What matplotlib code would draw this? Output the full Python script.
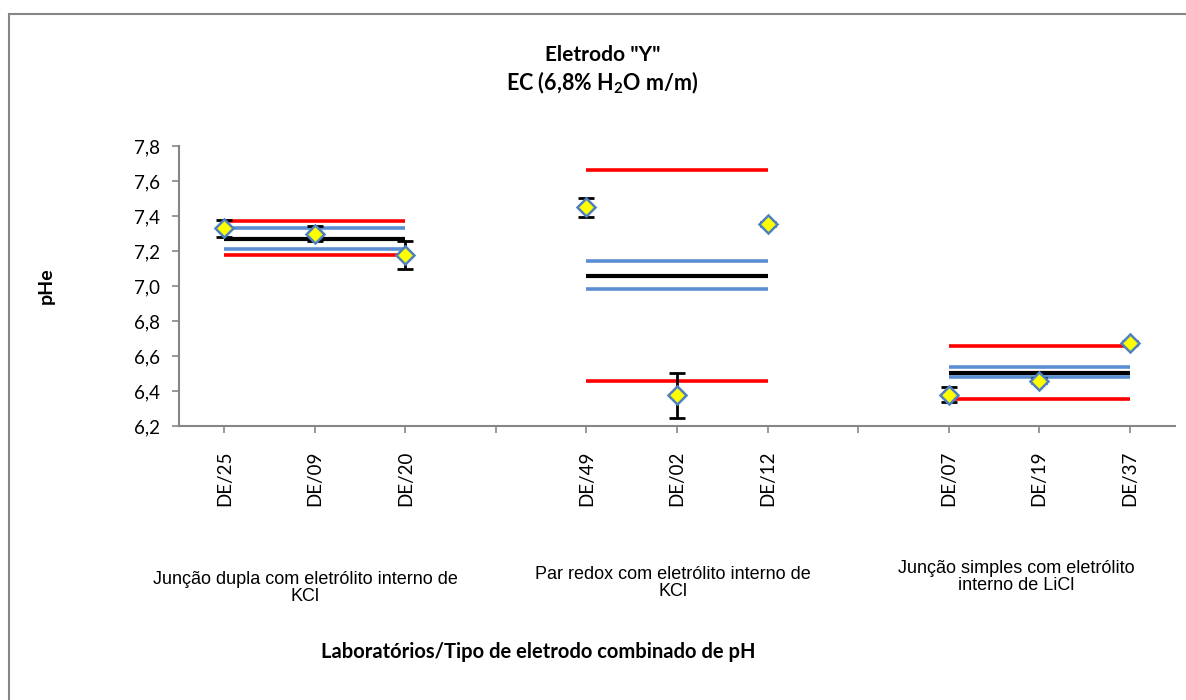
import matplotlib
matplotlib.use("Agg")
import matplotlib.pyplot as plt
from matplotlib.patches import Rectangle

plt.rcParams["mathtext.fontset"] = "custom"
plt.rcParams["mathtext.rm"] = "Lato"
plt.rcParams["mathtext.bf"] = "Lato:bold"

# categories (blank slots separate the electrode groups)
labs = ["DE/25", "DE/09", "DE/20", "", "DE/49", "DE/02", "DE/12", "", "DE/07", "DE/19", "DE/37"]
groups = [[0, 1, 2], [4, 5, 6], [8, 9, 10]]
groupNames = ["Junção dupla com eletrólito interno de\nKCl",
              "Par redox com eletrólito interno de\nKCl",
              "Junção simples com eletrólito\ninterno de LiCl"]

# lab results and their uncertainties
pHe = [7.33, 7.30, 7.18, None, 7.45, 6.375, 7.355, None, 6.38, 6.46, 6.675]
err = [0.05, 0.045, 0.08, None, 0.055, 0.13, 0.012, None, 0.045, 0.012, 0.012]

# group statistics: mean, blue band, red band
meanVals = [7.27, 7.06, 6.505]
blueUp = [7.33, 7.145, 6.535]
blueLow = [7.21, 6.98, 6.48]
redUp = [7.37, 7.665, 6.66]
redLow = [7.175, 6.455, 6.355]

fig = plt.figure(figsize=(11.86, 7.0), dpi=100)
ax = fig.add_axes([179/1186, 1-426/700, (1175-179)/1186, 280/700])

blue = "#5A8ED2"
for g, idx in enumerate(groups):
    xs = [idx[0], idx[-1]]
    ax.plot(xs, [redUp[g]]*2, color="#FF0000", lw=2.6, solid_capstyle="butt", zorder=2)
    ax.plot(xs, [redLow[g]]*2, color="#FF0000", lw=2.6, solid_capstyle="butt", zorder=2)
    ax.plot(xs, [blueUp[g]]*2, color=blue, lw=2.6, solid_capstyle="butt", zorder=2)
    ax.plot(xs, [blueLow[g]]*2, color=blue, lw=2.6, solid_capstyle="butt", zorder=2)
    ax.plot(xs, [meanVals[g]]*2, color="black", lw=3.0, solid_capstyle="butt", zorder=3)

xp = [i for i, v in enumerate(pHe) if v is not None]
yp = [pHe[i] for i in xp]
ep = [err[i] for i in xp]
ax.errorbar(xp, yp, yerr=ep, fmt="none", ecolor="black", elinewidth=2, capsize=6, capthick=2, zorder=4)
ax.plot(xp, yp, linestyle="none", marker="D", markersize=9.5, markerfacecolor="#FFFF00",
        markeredgecolor="#4F81BD", markeredgewidth=1.8, zorder=5)

ax.set_xlim(-0.5, len(labs)-0.5)
ax.set_ylim(6.2, 7.8)
yt = [6.2 + 0.2*i for i in range(9)]
ax.set_yticks(yt)
ax.set_yticklabels([f"{v:.1f}".replace(".", ",") for v in yt], fontsize=13.5, family="Lato")
ax.set_xticks(range(len(labs)))
ax.set_xticklabels(labs, rotation=90, fontsize=13.5, family="Lato")
for s in ["top", "right"]:
    ax.spines[s].set_visible(False)
for s in ["left", "bottom"]:
    ax.spines[s].set_color("#868686")
    ax.spines[s].set_linewidth(1.5)
ax.tick_params(axis="both", colors="#868686", labelcolor="black", length=5, width=1.2)
ax.tick_params(axis="y", pad=9)
ax.tick_params(axis="x", pad=13)

ax.set_ylabel("pHe", fontsize=14, fontweight="bold", family="Lato", labelpad=57)

fig.text(0.508, 1-55/700, 'Eletrodo "Y"', ha="center", va="center", fontsize=15, fontweight="bold", family="Lato")
fig.text(0.508, 1-83/700, r'EC (6,8% H$_\mathbf{2}$O m/m)', ha="center", va="center", fontsize=15.5,
         fontweight="bold", family="Lato")

gx = [305, 673, 1016]
gy = [588, 583, 577]
for g, name in enumerate(groupNames):
    fig.text(gx[g]/1186, 1-gy[g]/700, name, ha="center", va="center", fontsize=13,
             family="Liberation Sans", linespacing=1.05)

fig.text(538/1186, 1-652/700, "Laboratórios/Tipo de eletrodo combinado de pH", ha="center", va="center",
         fontsize=14.5, fontweight="bold", family="Lato")

fig.patches.append(Rectangle((9/1186, -0.05), 1.2, 1-14/700+0.05, transform=fig.transFigure,
                             fill=False, edgecolor="#868686", lw=1.5))

fig.savefig("out.png", dpi=100)
